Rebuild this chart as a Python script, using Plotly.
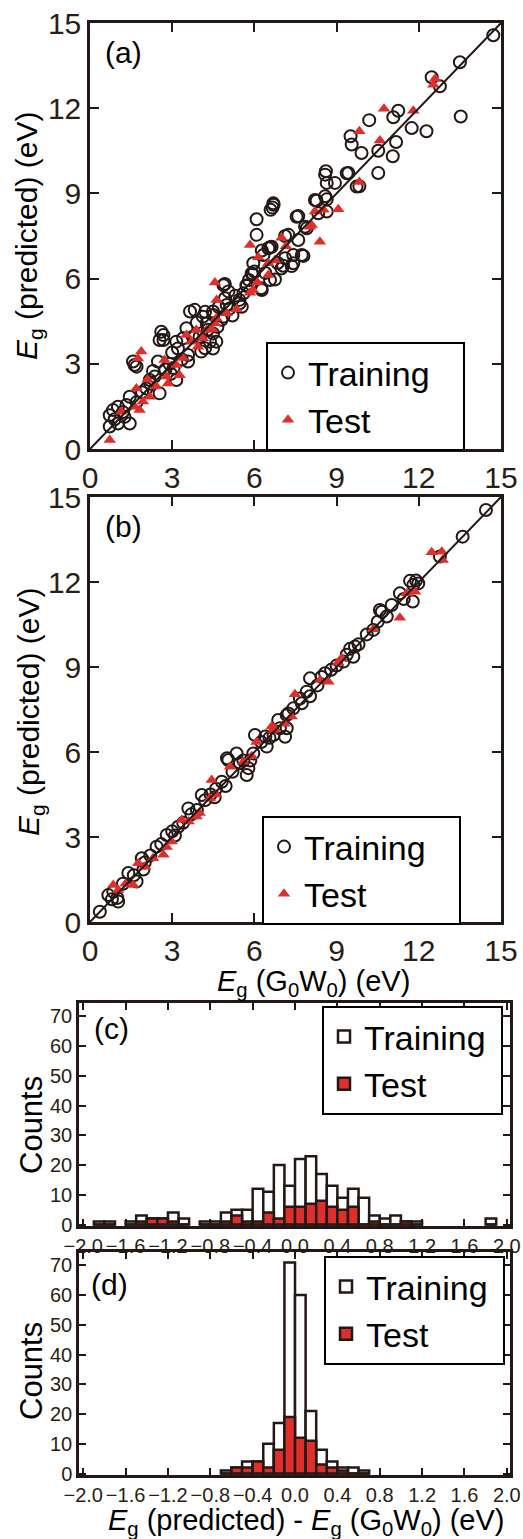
import plotly.graph_objects as go

# ---------------- data ----------------
# Panel (a): predicted vs G0W0 (eV) – training set
a_train_x = [14.72, 13.50, 12.47, 12.77, 13.53, 11.25, 11.07, 10.19, 11.74, 12.28, 9.51, 9.55, 11.17, 9.91,
             10.52, 11.05, 8.61, 8.58, 9.43, 10.52, 8.94, 8.64, 9.83, 8.58, 9.37, 9.73, 8.21, 7.54, 7.85,
             8.64, 6.66, 6.70, 7.24, 6.51,
             8.27, 8.64, 8.33, 7.91, 7.60, 6.69, 6.59, 6.08, 6.08, 7.12, 7.60, 6.57, 6.27, 7.79, 7.42, 7.12,
             5.96, 7.36, 6.99, 5.94, 6.75, 5.72, 4.87, 6.27, 5.60, 4.93, 5.54, 4.20, 4.50, 4.87, 4.26,
             6.33, 6.63, 6.57, 7.42, 7.73, 5.90, 4.99, 3.65, 4.20, 4.38,
             4.92, 5.71, 6.25, 5.46, 5.10, 3.82, 4.49, 4.12, 3.52, 2.60, 2.54, 3.15, 4.49, 4.61, 4.06, 4.49,
             3.21, 3.58, 1.63, 1.57, 2.48, 3.58, 3.15, 2.36, 2.18, 2.54, 2.06, 1.45, 1.33, 1.02, 0.84, 0.72,
             1.26, 1.45, 1.02, 0.72,
             3.90, 4.30, 3.40, 2.90, 2.75, 2.20, 1.90, 1.70, 1.20, 0.90, 5.05, 5.30, 5.80, 4.70, 5.20, 6.00,
             6.40, 3.00, 2.30, 2.95, 3.35, 4.65, 4.00, 2.68, 2.68, 1.70, 3.05, 3.75, 4.80, 5.45, 6.85, 7.05]
a_train_y = [14.57, 13.62, 13.09, 12.77, 11.71, 11.91, 11.68, 11.58, 11.30, 11.19, 11.01, 10.72, 10.81, 10.42,
             10.50, 10.31, 9.78, 9.66, 9.72, 9.72, 9.37, 9.37, 9.25, 8.90, 9.71, 9.24, 8.77, 8.18, 7.83,
             8.36, 8.50, 8.60, 7.54, 7.07,
             8.74, 8.79, 8.30, 7.77, 8.20, 8.65, 8.42, 8.09, 7.54, 7.50, 7.36, 7.10, 6.99, 6.80, 6.83, 6.72,
             6.54, 6.44, 6.36, 6.16, 5.97, 5.74, 5.77, 5.60, 5.48, 5.31, 5.01, 4.83, 4.72, 4.66, 4.43,
             6.83, 7.12, 5.95, 6.54, 6.83, 6.18, 5.07, 4.84, 3.55, 3.78,
             5.81, 5.77, 5.66, 5.13, 4.95, 4.90, 4.84, 4.66, 4.25, 4.13, 3.84, 3.78, 4.07, 3.78, 3.43, 3.54,
             3.54, 3.31, 2.96, 3.08, 3.08, 3.08, 2.43, 2.55, 2.43, 1.96, 2.13, 1.84, 1.55, 1.49, 1.37, 1.19,
             1.13, 0.90, 0.90, 0.79,
             4.45, 4.20, 3.90, 3.00, 2.80, 2.30, 2.00, 1.65, 1.30, 1.05, 5.55, 5.40, 5.95, 5.00, 4.70, 6.25,
             6.20, 3.40, 2.75, 2.65, 3.15, 4.30, 3.95, 4.01, 3.84, 2.90, 2.85, 3.95, 4.55, 5.25, 6.55, 6.45]

# Panel (a): test set
a_test_x = [12.59, 12.53, 10.73, 11.80, 9.83, 10.58, 9.83, 9.06, 8.21, 8.52, 8.09, 8.03, 5.84, 6.99, 7.15,
            8.39, 6.14, 6.75, 6.51, 6.51, 6.11, 4.56, 5.84, 4.62, 5.35, 4.99, 4.56, 4.45, 4.61, 3.88, 4.26,
            3.52, 4.12, 3.94, 3.70, 1.87, 1.75, 2.72, 3.15, 3.27, 2.79, 2.85, 2.42, 1.69, 2.18, 1.93, 1.81,
            1.63, 1.14, 0.72, 3.40, 2.10, 5.95]
a_test_y = [13.04, 12.83, 11.98, 11.91, 11.19, 10.86, 9.40, 8.44, 8.36, 8.42, 7.89, 7.83, 7.18, 7.44, 7.14,
            7.30, 6.75, 6.65, 6.54, 6.13, 5.86, 5.86, 5.50, 5.25, 4.92, 4.78, 4.43, 4.22, 4.60, 4.19, 4.19,
            4.01, 3.90, 3.60, 3.78, 3.43, 3.19, 3.13, 2.96, 2.60, 2.55, 2.31, 2.20, 2.13, 1.84, 1.67, 1.37,
            1.49, 1.31, 0.32, 3.20, 2.45, 5.60]

# Panel (b): training set
b_train_x = [14.45, 13.60, 12.77, 11.98, 11.68, 11.80, 11.78, 11.31, 11.01, 10.65, 10.83, 10.58, 10.34, 9.67,
             9.49, 9.61, 9.25, 9.37, 8.58, 8.03, 7.91, 8.03, 7.66, 7.73, 7.42, 7.24, 7.18, 6.87, 7.18, 7.12,
             6.93, 6.45, 6.02, 5.96, 5.35, 5.00, 5.72, 5.05, 5.47, 5.78, 4.81, 4.08, 3.59, 3.22, 2.80, 2.43,
             1.89, 1.40, 1.70, 0.85, 1.03, 0.67, 0.36,
             6.25, 6.55, 6.70, 5.60, 5.20, 4.60, 4.40, 4.20, 3.90, 3.70, 3.40, 3.00, 2.60, 2.20, 2.00, 1.60,
             1.20, 1.00, 0.80, 8.30, 8.45, 9.00, 9.80, 10.10, 10.50, 11.45, 11.90, 8.80, 4.95, 3.10, 1.95,
             6.40, 5.85, 4.55]
b_train_y = [14.54, 13.60, 12.90, 11.95, 12.04, 11.90, 11.31, 11.60, 11.19, 10.95, 10.78, 11.01, 10.31, 9.72,
             9.64, 9.36, 9.19, 9.43, 8.78, 8.60, 8.13, 7.97, 7.89, 7.72, 7.54, 7.36, 7.30, 7.13, 6.84, 6.54,
             6.84, 6.19, 6.60, 5.95, 5.95, 5.78, 5.19, 5.72, 5.60, 5.43, 4.95, 4.48, 4.01, 3.36, 3.07, 2.66,
             2.25, 1.73, 1.43, 1.07, 0.72, 0.95, 0.36,
             6.35, 6.50, 6.60, 5.70, 5.30, 4.70, 4.50, 4.30, 3.95, 3.80, 3.50, 3.20, 2.75, 2.35, 2.10, 1.65,
             1.35, 0.85, 0.80, 8.35, 8.65, 9.05, 9.80, 10.15, 10.60, 11.40, 12.05, 8.90, 4.80, 3.05, 1.85,
             6.55, 5.70, 4.40]

# Panel (b): test set
b_test_x = [12.47, 12.84, 12.87, 11.56, 11.86, 11.31, 10.34, 9.19, 8.70, 8.40, 7.48, 7.36, 6.75, 6.69, 6.08,
            5.11, 5.60, 4.44, 4.38, 3.89, 3.35, 2.98, 2.68, 2.01, 1.76, 1.58, 1.03, 0.85, 6.63, 4.00, 3.60,
            4.60, 5.90, 2.30, 1.30, 2.80, 7.10, 9.05]
b_test_y = [13.05, 13.07, 12.78, 11.60, 11.66, 10.74, 10.33, 9.31, 8.48, 8.54, 8.04, 7.25, 6.84, 6.78, 6.35,
            5.48, 5.66, 5.01, 4.36, 3.72, 3.60, 2.84, 2.37, 1.95, 2.07, 1.31, 1.13, 1.31, 6.90, 3.85, 3.55,
            4.50, 5.85, 2.25, 1.35, 2.65, 7.00, 9.15]

# Histograms: bin left edges (eV), bin width 0.1
c_edges = [-1.9, -1.8, -1.6, -1.5, -1.4, -1.3, -1.2, -1.1, -0.9, -0.8, -0.7, -0.6, -0.5, -0.4, -0.3,
           -0.2, -0.1, 0.0, 0.1, 0.2, 0.3, 0.4, 0.5, 0.6, 0.7, 0.8, 0.9, 1.0, 1.1, 1.8]
c_train = [1, 1, 1, 3, 2, 2, 4, 2, 1, 1, 4, 5, 5, 12, 11, 20, 13, 22, 23, 17, 13, 9, 12, 9, 3, 2, 3, 1, 1, 2]
c_test = [0, 0, 0, 1, 2, 2, 1, 0, 0, 0, 1, 3, 1, 1, 4, 2, 6, 6, 7, 8, 6, 5, 6, 0, 1, 0, 0, 1, 0, 0]

d_edges = [-0.7, -0.6, -0.5, -0.4, -0.3, -0.2, -0.1, 0.0, 0.1, 0.2, 0.3, 0.4, 0.5, 0.6]
d_train = [1, 2, 4, 4, 10, 17, 71, 60, 21, 8, 4, 2, 2, 1]
d_test = [0, 2, 2, 4, 2, 8, 19, 12, 11, 3, 2, 1, 0, 0]

diag = [0, 15]
scatter_ticks = [0, 3, 6, 9, 12, 15]
hist_xticks = [-2.0, -1.6, -1.2, -0.8, -0.4, 0.0, 0.4, 0.8, 1.2, 1.6, 2.0]
hist_yticks = [0, 10, 20, 30, 40, 50, 60, 70]
bin_width = 0.1
name_train = "Training"
name_test = "Test"

# ---------------- style ----------------
W, H = 523, 1539
DARK = "#231815"
RED = "#E02F2B"
FONT = "Liberation Sans, Arial, sans-serif"
TICKCOL = "#2b1d14"
PAD_SC = "\u00a0\u00a0\u00a0"   # extra right padding inside the scatter legends
PAD_HI = "\u00a0"               # extra right padding inside the histogram legends


def px(x):
    return x / W


def py(y):
    return 1 - y / H


fig = go.Figure()

# scatter panels
for tx, ty, sx, sy, xa, ya, lg in [
    (a_train_x, a_train_y, a_test_x, a_test_y, "x", "y", "legend"),
    (b_train_x, b_train_y, b_test_x, b_test_y, "x2", "y2", "legend2"),
]:
    fig.add_trace(go.Scatter(x=tx, y=ty, mode="markers", name=name_train + PAD_SC, xaxis=xa, yaxis=ya, legend=lg,
                             marker=dict(symbol="circle-open", size=12, color=DARK, line=dict(width=2, color=DARK))))
    fig.add_trace(go.Scatter(x=sx, y=sy, mode="markers", name=name_test, xaxis=xa, yaxis=ya, legend=lg,
                             marker=dict(symbol="triangle-up", size=11, color=RED, line=dict(width=0))))
    fig.add_trace(go.Scatter(x=diag, y=diag, mode="lines", showlegend=False, xaxis=xa, yaxis=ya,
                             line=dict(color=DARK, width=2), hoverinfo="skip"))

# histogram panels
for edges, tr, te, xa, ya, lg in [
    (c_edges, c_train, c_test, "x3", "y3", "legend3"),
    (d_edges, d_train, d_test, "x4", "y4", "legend4"),
]:
    centers = [e + bin_width / 2 for e in edges]
    fig.add_trace(go.Bar(x=centers, y=tr, width=bin_width, name=name_train + PAD_HI, xaxis=xa, yaxis=ya,
                         legend=lg, marker=dict(color="white", line=dict(color=DARK, width=2.5))))
    fig.add_trace(go.Bar(x=centers, y=te, width=bin_width, name=name_test, xaxis=xa, yaxis=ya, legend=lg,
                         marker=dict(color=RED, line=dict(color=DARK, width=2.5))))


def ax(size, ticklen, **kw):
    d = dict(showline=True, linewidth=2.5, linecolor=DARK, mirror="ticks", ticks="inside",
             tickwidth=2, tickcolor=DARK, ticklen=ticklen, showgrid=False, zeroline=False,
             automargin=False, tickfont=dict(family=FONT, size=size, color=TICKCOL))
    d.update(kw)
    return d


sc_x_dom = [px(90), px(501)]
hi_x_dom = [px(79), px(510)]
fig.update_layout(
    width=W, height=H, autosize=False, margin=dict(l=0, r=0, t=0, b=0, pad=0),
    paper_bgcolor="white", plot_bgcolor="white",
    barmode="overlay", font=dict(family=FONT, color="black"),
    xaxis=ax(30, 9, domain=sc_x_dom, anchor="y", range=[0, 15], tickvals=scatter_ticks),
    yaxis=ax(30, 9, domain=[py(449), py(23)], anchor="x", range=[0, 15], tickvals=scatter_ticks),
    xaxis2=ax(30, 9, domain=sc_x_dom, anchor="y2", range=[0, 15], tickvals=scatter_ticks),
    yaxis2=ax(30, 9, domain=[py(922), py(497)], anchor="x2", range=[0, 15], tickvals=scatter_ticks),
    xaxis3=ax(20, 7, domain=hi_x_dom, anchor="y3", range=[-2.04, 2.03], tickvals=hist_xticks,
              tickformat=".1f", tickangle=0),
    yaxis3=ax(20, 7, domain=[py(1226), py(1003)], anchor="x3", range=[-0.5, 74.5], tickvals=hist_yticks),
    xaxis4=ax(20, 7, domain=hi_x_dom, anchor="y4", range=[-2.04, 2.03], tickvals=hist_xticks,
              tickformat=".1f", tickangle=0),
    yaxis4=ax(20, 7, domain=[py(1475), py(1252)], anchor="x4", range=[-0.5, 74.5], tickvals=hist_yticks),
)

leg_common = dict(xanchor="left", yanchor="top", bgcolor="white", bordercolor="black", borderwidth=2,
                  font=dict(family=FONT, size=34, color="black"), tracegroupgap=0)
fig.update_layout(
    legend=dict(x=px(266), y=py(342), **leg_common),
    legend2=dict(x=px(262), y=py(816), **leg_common),
    legend3=dict(x=px(322), y=py(1006), **leg_common),
    legend4=dict(x=px(324), y=py(1256), **leg_common),
)

ann = []


def add_ann(text, x, y, size, angle=0, xanchor="center", yanchor="middle"):
    ann.append(dict(text=text, x=px(x), y=py(y), xref="paper", yref="paper", showarrow=False,
                    textangle=angle, xanchor=xanchor, yanchor=yanchor,
                    font=dict(family=FONT, size=size, color="black")))


eg = "<i>E</i><sub>g</sub>"
add_ann(eg + " (predicted) (eV)", 28, 236, 30, angle=-90)
add_ann(eg + " (predicted) (eV)", 30, 712, 30, angle=-90)
add_ann(eg + " (G<sub>0</sub>W<sub>0</sub>) (eV)", 313, 983, 29)
add_ann("Counts", 31, 1125, 31, angle=-90)
add_ann("Counts", 31, 1371, 31, angle=-90)
add_ann(eg + " (predicted) - " + eg + " (G<sub>0</sub>W<sub>0</sub>) (eV)", 306, 1522, 29)
add_ann("(a)", 103, 52, 30, xanchor="left")
add_ann("(b)", 103, 526, 30, xanchor="left")
add_ann("(c)", 92, 1028, 30, xanchor="left")
add_ann("(d)", 89, 1284, 30, xanchor="left")
fig.update_layout(annotations=ann)

fig.write_html("out.html", config={"displayModeBar": False},
               post_script="document.body.style.margin='0';")
